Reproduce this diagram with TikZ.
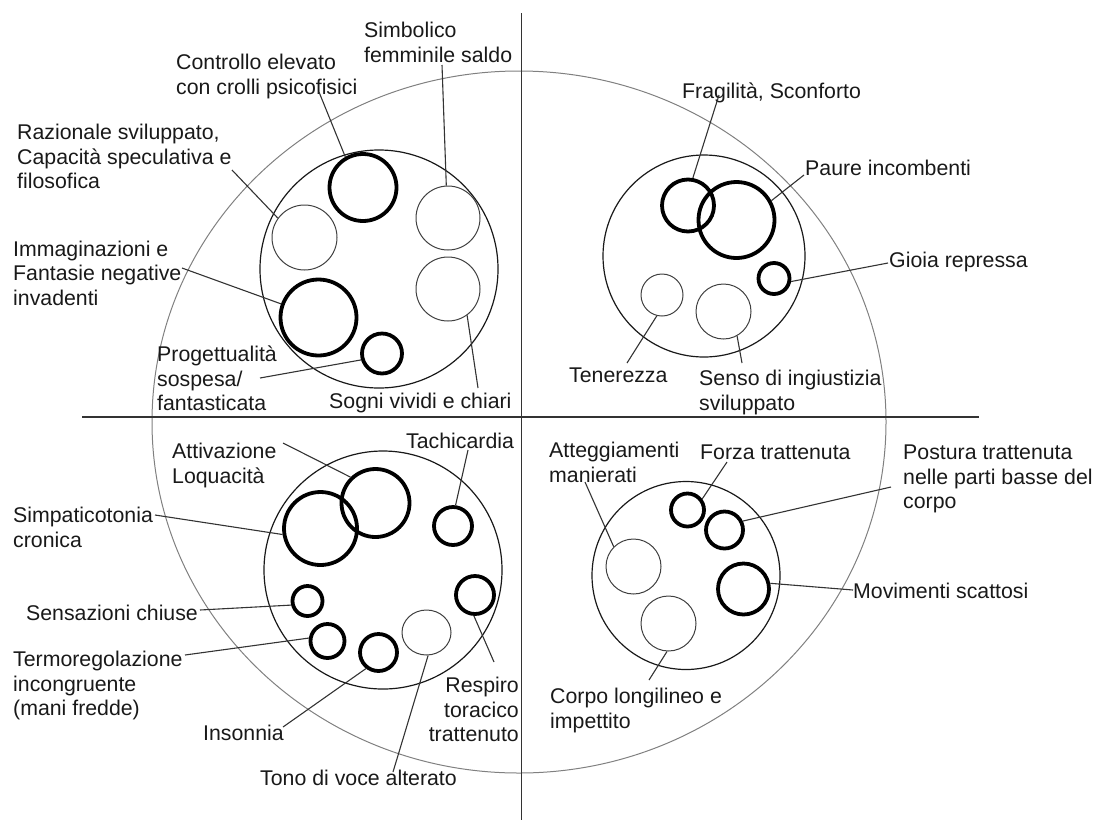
\documentclass[tikz,border=0pt]{standalone}
\usepackage{fontspec}
\setmainfont{Liberation Sans}
\usetikzlibrary{shapes.geometric}
\begin{document}
\begin{tikzpicture}[x=1pt,y=-1pt,
  lbl/.style={anchor=north west, inner sep=0pt, align=left, text=black!90,
              font=\fontsize{21.3}{24.5}\selectfont},
  lblr/.style={lbl, anchor=north east, align=right},
  grp/.style={circle, draw=black!90, line width=1.2pt, inner sep=0pt, minimum size=#1},
  hard/.style={circle, draw=black, line width=3.8pt, inner sep=0pt, minimum size=#1},
  soft/.style={circle, draw=black!75, line width=1pt, inner sep=0pt, minimum size=#1},
  link/.style={draw=black!80, line width=1.1pt},
  axis/.style={draw=black!80, line width=1.4pt}]
\useasboundingbox (0,0) rectangle (1102,820);

% outer boundary and quadrant axes
\draw[draw=black!50, line width=1pt] (519,422) ellipse [x radius=367, y radius=351];
\coordinate (vt) at (521.5,13);
\coordinate (vb) at (521.5,820);
\coordinate (hl) at (82,417);
\coordinate (hr) at (979,417);
\draw[axis] (vt) -- (vb);
\draw[axis] (hl) -- (hr);

% ---------- top left ----------
\node[grp=238] (g1) at (379,269) {};
\node[hard=67] (ctrl) at (363,187.5) {};
\node[soft=65] (raz) at (304.5,237.5) {};
\node[soft=64] (simb) at (448,218) {};
\node[soft=64] (sogni) at (448,289) {};
\node[hard=76] (imm) at (318.5,317.5) {};
\node[hard=40] (prog) at (382,353.5) {};

\node[lbl] (tsimb) at (364,22) {Simbolico\\femminile saldo};
\node[lbl] (tctrl) at (176,54) {Controllo elevato\\con crolli psicofisici};
\node[lbl] (traz) at (17,124) {Razionale sviluppato,\\Capacità speculativa e\\filosofica};
\node[lbl] (timm) at (13,240.5) {Immaginazioni e\\Fantasie negative\\invadenti};
\node[lbl] (tprog) at (157,346) {Progettualità\\sospesa/\\fantasticata};
\node[lbl] (tsogni) at (329,393) {Sogni vividi e chiari};

\coordinate (asimb) at (442,65);
\coordinate (actrl) at (319,92);
\coordinate (araz) at (232,170);
\coordinate (aimm) at (182,268);
\coordinate (aprog) at (260,378);
\coordinate (asogni) at (478,388);
\draw[link] (asimb) -- (simb.93);
\draw[link] (actrl) -- (ctrl.120);
\draw[link] (araz) -- (raz.144);
\draw[link] (aimm) -- (imm.160);
\draw[link] (aprog) -- (prog.197);
\draw[link] (asogni) -- (sogni.-54);

% ---------- top right ----------
\node[grp=202] (g2) at (704,256) {};
\node[hard=52] (frag) at (688,205.5) {};
\node[hard=76] (paure) at (736.5,220) {};
\node[hard=31] (gioia) at (774,278.5) {};
\node[soft=42] (ten) at (662,295) {};
\node[soft=55] (senso) at (723.5,311.5) {};

\node[lbl] (tfrag) at (682,83) {Fragilità, Sconforto};
\node[lbl] (tpaure) at (805,160) {Paure incombenti};
\node[lbl] (tgioia) at (889,252) {Gioia repressa};
\node[lbl] (tten) at (569,368) {Tenerezza};
\node[lbl] (tsenso) at (699,370) {Senso di ingiustizia\\sviluppato};

\coordinate (afrag) at (719,95);
\coordinate (apaure) at (804,175);
\coordinate (agioia) at (888,263);
\coordinate (aten) at (627,363);
\coordinate (asenso) at (742,363);
\draw[link] (afrag) -- (frag.80);
\draw[link] (apaure) -- (paure.29);
\draw[link] (agioia) -- (gioia.-10);
\draw[link] (aten) -- (ten.-104);
\draw[link] (asenso) -- (senso.-61);

% ---------- bottom left ----------
\node[grp=238] (g3) at (383,570) {};
\node[hard=68] (attiv) at (375.5,503) {};
\node[hard=73] (simpa) at (320.5,528.5) {};
\node[hard=38] (tachi) at (453,526) {};
\node[hard=30] (sens) at (307.5,601) {};
\node[hard=38] (resp) at (475,595) {};
\node[hard=34] (termo) at (327.5,641) {};
\node[hard=37] (inson) at (378.5,652.5) {};
\node[soft, ellipse, minimum width=49, minimum height=45] (tono) at (426.5,632.5) {};

\node[lbl] (tattiv) at (172,443) {Attivazione\\Loquacità};
\node[lbl] (ttachi) at (406,433) {Tachicardia};
\node[lbl] (tsimpa) at (13,507) {Simpaticotonia\\cronica};
\node[lbl] (tsens) at (26,605) {Sensazioni chiuse};
\node[lbl] (ttermo) at (13,651) {Termoregolazione\\incongruente\\(mani fredde)};
\node[lbl] (tinson) at (203,725) {Insonnia};
\node[lblr] (tresp) at (519,677) {Respiro\\toracico\\trattenuto};
\node[lbl] (ttono) at (260,770) {Tono di voce alterato};

\coordinate (aattiv) at (283,443);
\coordinate (atachi) at (468,450);
\coordinate (asimpa) at (155,515);
\coordinate (asens) at (200,610);
\coordinate (atermo) at (185,655);
\coordinate (ainson) at (283,727);
\coordinate (aresp) at (494,662);
\coordinate (atono) at (393,772);
\draw[link] (aattiv) -- (attiv.134);
\draw[link] (atachi) -- (tachi.83);
\draw[link] (asimpa) -- (simpa.189);
\draw[link] (asens) -- (sens.194);
\draw[link] (atermo) -- (termo.171);
\draw[link] (ainson) -- (inson.232);
\draw[link] (aresp) -- (resp.-93);
\draw[link] (atono) -- (tono.-86);

% ---------- bottom right ----------
\node[grp=188] (g4) at (686,575.5) {};
\node[hard=33] (forza) at (687.5,510) {};
\node[hard=37] (post) at (724.5,530) {};
\node[hard=51] (movim) at (743.5,589) {};
\node[soft=55] (atteg) at (633.5,566.5) {};
\node[soft=55] (corpo) at (668.5,623.5) {};

\node[lbl] (tatteg) at (549,442) {Atteggiamenti\\manierati};
\node[lbl] (tforza) at (700,445) {Forza trattenuta};
\node[lbl] (tpost) at (903,445) {Postura trattenuta\\nelle parti basse del\\corpo};
\node[lbl] (tmovim) at (853,583) {Movimenti scattosi};
\node[lbl] (tcorpo) at (550,688) {Corpo longilineo e\\impettito};

\coordinate (aatteg) at (585,482);
\coordinate (aforza) at (727,462);
\coordinate (apost) at (891,487);
\coordinate (amovim) at (853,590);
\coordinate (acorpo) at (649,680);
\draw[link] (aatteg) -- (atteg.135);
\draw[link] (aforza) -- (forza.37);
\draw[link] (apost) -- (post.26);
\draw[link] (amovim) -- (movim.12);
\draw[link] (acorpo) -- (corpo.-93);
\end{tikzpicture}
\end{document}
